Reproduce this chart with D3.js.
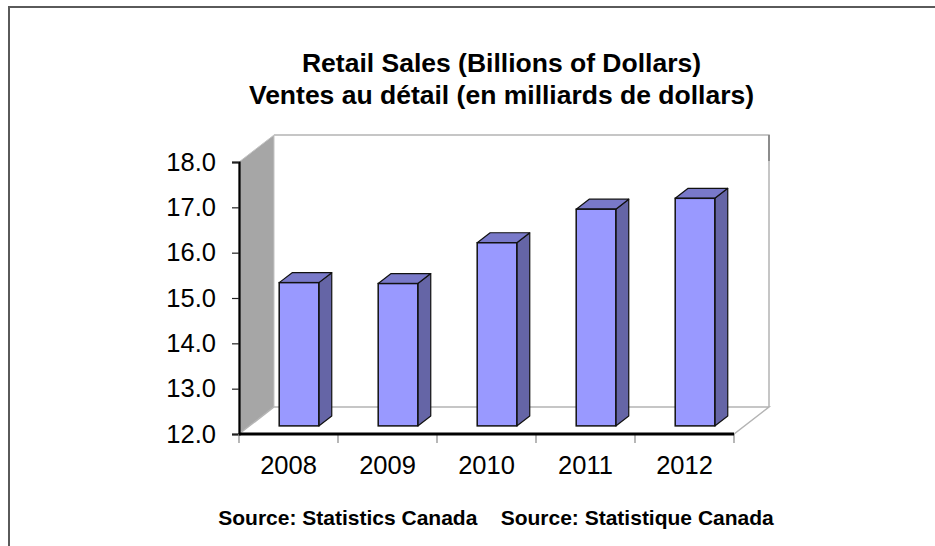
<!DOCTYPE html>
<html>
<head>
<meta charset="utf-8">
<script src="https://cdn.jsdelivr.net/npm/d3@7"></script>
<style>
  html, body { margin: 0; padding: 0; background: #fff; }
  svg { display: block; font-family: "Liberation Sans", Arial, sans-serif; }
</style>
</head>
<body>
<svg id="chart" width="935" height="546"></svg>
<script>
const categories = ["2008", "2009", "2010", "2011", "2012"];
const values = [15.16, 15.14, 16.04, 16.78, 17.02];
const yTicks = [12, 13, 14, 15, 16, 17, 18];
const titleLines = ["Retail Sales (Billions of Dollars)", "Ventes au détail (en milliards de dollars)"];
const sourceText = "Source: Statistics Canada    Source: Statistique Canada";

const svg = d3.select("#chart");

// outer frame
svg.append("rect").attr("x", 9).attr("y", 7).attr("width", 1000).attr("height", 1000)
  .attr("fill", "none").attr("stroke", "#5a5a5a").attr("stroke-width", 2);

// geometry
const x0 = 239, x1 = 734, DX = 35, DY = -27;
const x = d3.scaleBand().domain(categories).range([x0, x1]).padding(0);
const y = d3.scaleLinear().domain([12, 18]).range([434, 162]);
const yB = y(12), yT = y(18);

// back wall
svg.append("polygon")
  .attr("points", [[x0 + DX, yT + DY], [x1 + DX, yT + DY], [x1 + DX, yB + DY], [x0 + DX, yB + DY]].join(" "))
  .attr("fill", "#fff").attr("stroke", "none");
svg.append("polyline")
  .attr("points", [[x0 + DX, yT + DY], [x1 + DX, yT + DY], [x1 + DX, yB + DY]].join(" "))
  .attr("fill", "none").attr("stroke", "#b4b4b4").attr("stroke-width", 1.5);
svg.append("line").attr("x1", x1 + DX).attr("x2", x1 + DX).attr("y1", yT + DY).attr("y2", yT + DY + 26)
  .attr("stroke", "#8c8c8c").attr("stroke-width", 2);

// left wall
svg.append("polygon")
  .attr("points", [[x0, yT], [x0 + DX, yT + DY], [x0 + DX, yB + DY], [x0, yB]].join(" "))
  .attr("fill", "#a6a6a6").attr("stroke", "#c4c4c4").attr("stroke-width", 1);

// floor
svg.append("polygon")
  .attr("points", [[x0, yB], [x0 + DX, yB + DY], [x1 + DX, yB + DY], [x1, yB]].join(" "))
  .attr("fill", "#fff").attr("stroke", "#b4b4b4").attr("stroke-width", 1.5);

// bars
const f0 = 0.30, f1 = 0.67;
const fx = DX * f0, fy = DY * f0, bx = DX * (f1 - f0), by = DY * (f1 - f0);
const bw = x.bandwidth() * 0.4;
const bars = svg.append("g");
categories.forEach((c, i) => {
  const xl = x(c) + (x.bandwidth() - bw) / 2 + fx;
  const xr = xl + bw;
  const yt = y(values[i]) + fy;
  const yb = y(12) + fy;
  // side
  bars.append("polygon")
    .attr("points", [[xr, yt], [xr + bx, yt + by], [xr + bx, yb + by], [xr, yb]].join(" "))
    .attr("fill", "#6565a6").attr("stroke", "#111").attr("stroke-width", 1.2).attr("stroke-linejoin", "round");
  // top
  bars.append("polygon")
    .attr("points", [[xl, yt], [xl + bx, yt + by], [xr + bx, yt + by], [xr, yt]].join(" "))
    .attr("fill", "#7979c9").attr("stroke", "#111").attr("stroke-width", 1.2).attr("stroke-linejoin", "round");
  // front
  bars.append("rect").attr("x", xl).attr("y", yt).attr("width", bw).attr("height", yb - yt)
    .attr("fill", "#9999ff").attr("stroke", "#111").attr("stroke-width", 1.5);
});

// y axis
const yAxis = d3.axisLeft(y).tickValues(yTicks).tickFormat(d3.format(".1f")).tickSize(7).tickPadding(16);
const ga = svg.append("g").attr("transform", `translate(${x0},0)`).call(yAxis);
ga.select(".domain").attr("stroke", "#000").attr("stroke-width", 2.2);
ga.selectAll(".tick line").attr("stroke", "#222").attr("stroke-width", 1.2);
ga.selectAll(".tick text").attr("fill", "#000").attr("font-size", 25.5)
  .attr("font-family", "'Liberation Sans', Arial, sans-serif");

// x axis
const xAxis = d3.axisBottom(x).tickSize(0).tickPadding(22);
const gx = svg.append("g").attr("transform", `translate(0,${yB})`).call(xAxis);
gx.select(".domain").remove();
gx.selectAll(".tick text").attr("fill", "#000").attr("font-size", 25.5)
  .attr("font-family", "'Liberation Sans', Arial, sans-serif");
// category boundary ticks
const bounds = categories.map(c => x(c)).concat([x1]);
svg.append("g").selectAll("line").data(bounds).join("line")
  .attr("x1", d => d).attr("x2", d => d).attr("y1", yB).attr("y2", yB + 9)
  .attr("stroke", "#888").attr("stroke-width", 1.2);
svg.append("line").attr("x1", x0).attr("x2", x1).attr("y1", yB).attr("y2", yB)
  .attr("stroke", "#000").attr("stroke-width", 3);

// title
svg.append("g").selectAll("text").data(titleLines).join("text")
  .attr("x", 501.5).attr("y", (d, i) => 72 + i * 32)
  .attr("text-anchor", "middle").attr("font-weight", "bold").attr("font-size", 26.5)
  .attr("fill", "#000").text(d => d);

// source
svg.append("text").attr("x", 496).attr("y", 525).attr("text-anchor", "middle")
  .attr("font-weight", "bold").attr("font-size", 21).attr("fill", "#000")
  .attr("xml:space", "preserve").style("white-space", "pre").text(sourceText);
</script>
</body>
</html>
